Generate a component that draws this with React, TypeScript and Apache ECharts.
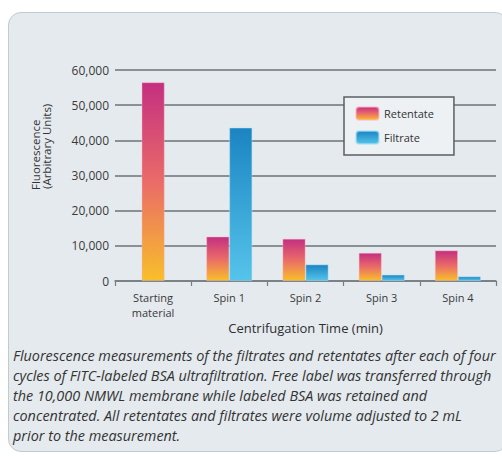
import React, { useEffect, useRef } from "react";
import * as echarts from "echarts";

const categories = ["Starting\nmaterial", "Spin 1", "Spin 2", "Spin 3", "Spin 4"];
const startingMaterial = [56500, null, null, null, null];
const retentate = [null, 12600, 12000, 8000, 8700];
const filtrate = [null, 43600, 4700, 1800, 1300];
const yTicks = { min: 0, max: 60000, interval: 10000 };
const captionLines = [
  "Fluorescence measurements of the filtrates and retentates after each of four",
  "cycles of FITC-labeled BSA ultrafiltration. Free label was transferred through",
  "the 10,000 NMWL membrane while labeled BSA was retained and",
  "concentrated. All retentates and filtrates were volume adjusted to 2 mL",
  "prior to the measurement.",
];

const FONT = "'Open Sans', 'DejaVu Sans', sans-serif";

export default function App() {
  const ref = useRef<HTMLDivElement>(null);
  useEffect(() => {
    if (!ref.current) return;
    const chart = echarts.init(ref.current, null, { renderer: "svg" });
    const retGrad = new echarts.graphic.LinearGradient(0, 0, 0, 1, [
      { offset: 0, color: "#c42f80" },
      { offset: 0.5, color: "#ea6b68" },
      { offset: 1, color: "#f8bf2a" },
    ]);
    const filGrad = new echarts.graphic.LinearGradient(0, 0, 0, 1, [
      { offset: 0, color: "#1b84c2" },
      { offset: 1, color: "#55c4ea" },
    ]);
    chart.setOption({
      animation: false,
      textStyle: { fontFamily: FONT },
      grid: { left: 115, right: 6, top: 70, bottom: 175, outerBoundsMode: "none" },
      legend: {
        data: ["Retentate", "Filtrate"],
        orient: "vertical",
        left: 344,
        top: 97,
        itemWidth: 23,
        itemHeight: 13,
        itemGap: 9,
        padding: [9, 20, 10, 11],
        backgroundColor: "#edf1f4",
        borderColor: "#5a5f63",
        borderWidth: 1.5,
        borderRadius: 0,
        textStyle: { fontFamily: FONT, fontSize: 11, color: "#333" },
      },
      xAxis: [
        {
          type: "category",
          data: categories,
          axisLine: { lineStyle: { color: "#777d82", width: 1.5 } },
          axisTick: { show: true, length: 5, lineStyle: { color: "#777d82", width: 1.2 } },
          axisLabel: { fontSize: 11, color: "#3a3a3a", margin: 9, lineHeight: 15, fontFamily: FONT },
          name: "Centrifugation Time (min)",
          nameLocation: "middle",
          nameGap: 40,
          nameTextStyle: { fontSize: 13, color: "#2e2e2e", fontFamily: FONT },
        },
        { type: "category", data: categories, show: false },
      ],
      yAxis: {
        type: "value",
        min: yTicks.min,
        max: yTicks.max,
        interval: yTicks.interval,
        axisLine: { show: false },
        axisTick: { show: false },
        axisLabel: {
          fontSize: 12,
          color: "#3a3a3a",
          margin: 6,
          fontFamily: FONT,
          formatter: (v: number) => v.toLocaleString("en-US"),
        },
        splitLine: { lineStyle: { color: "#6d7378", width: 1.5 } },
      },
      series: [
        {
          name: "Retentate",
          type: "bar",
          data: retentate,
          barWidth: 23,
          barGap: "0%",
          itemStyle: { color: retGrad, borderColor: "rgba(255,180,200,0.5)", borderWidth: 0.8 },
        },
        {
          name: "Filtrate",
          type: "bar",
          data: filtrate,
          barWidth: 23,
          barGap: "0%",
          itemStyle: { color: filGrad, borderColor: "rgba(170,225,245,0.6)", borderWidth: 0.8 },
        },
        {
          name: "Retentate",
          type: "bar",
          xAxisIndex: 1,
          data: startingMaterial,
          barWidth: 23,
          itemStyle: { color: retGrad, borderColor: "rgba(255,180,200,0.5)", borderWidth: 0.8 },
        },
      ],
      graphic: [
        {
          type: "text",
          x: 35,
          y: 190,
          rotation: Math.PI / 2,
          style: { text: "Fluorescence", fontSize: 11.5, fill: "#333", fontFamily: FONT, align: "left", verticalAlign: "middle" },
        },
        {
          type: "text",
          x: 46,
          y: 189,
          rotation: Math.PI / 2,
          style: { text: "(Arbitrary Units)", fontSize: 11.5, fill: "#333", fontFamily: FONT, align: "left", verticalAlign: "middle" },
        },
        ...captionLines.map((t, i) => ({
          type: "text",
          x: 13,
          y: 355 + i * 20.2,
          style: {
            text: t,
            fontSize: 14.4,
            fontStyle: "italic",
            fill: "#333",
            fontFamily: FONT,
            align: "left",
            verticalAlign: "middle",
          },
        })),
      ],
    });
    return () => chart.dispose();
  }, []);
  return (
    <div style={{ position: "absolute", left: 0, top: 0, width: 502, height: 456, background: "#ffffff", overflow: "hidden" }}>
      <div
        style={{
          position: "absolute",
          left: 8,
          top: 12,
          width: 500,
          height: 440,
          background: "#e4eaee",
          border: "1px solid #c3cacf",
          borderRadius: 13,
          boxSizing: "border-box",
        }}
      />
      <div ref={ref} style={{ position: "absolute", left: 0, top: 0, width: 502, height: 456 }} />
    </div>
  );
}
